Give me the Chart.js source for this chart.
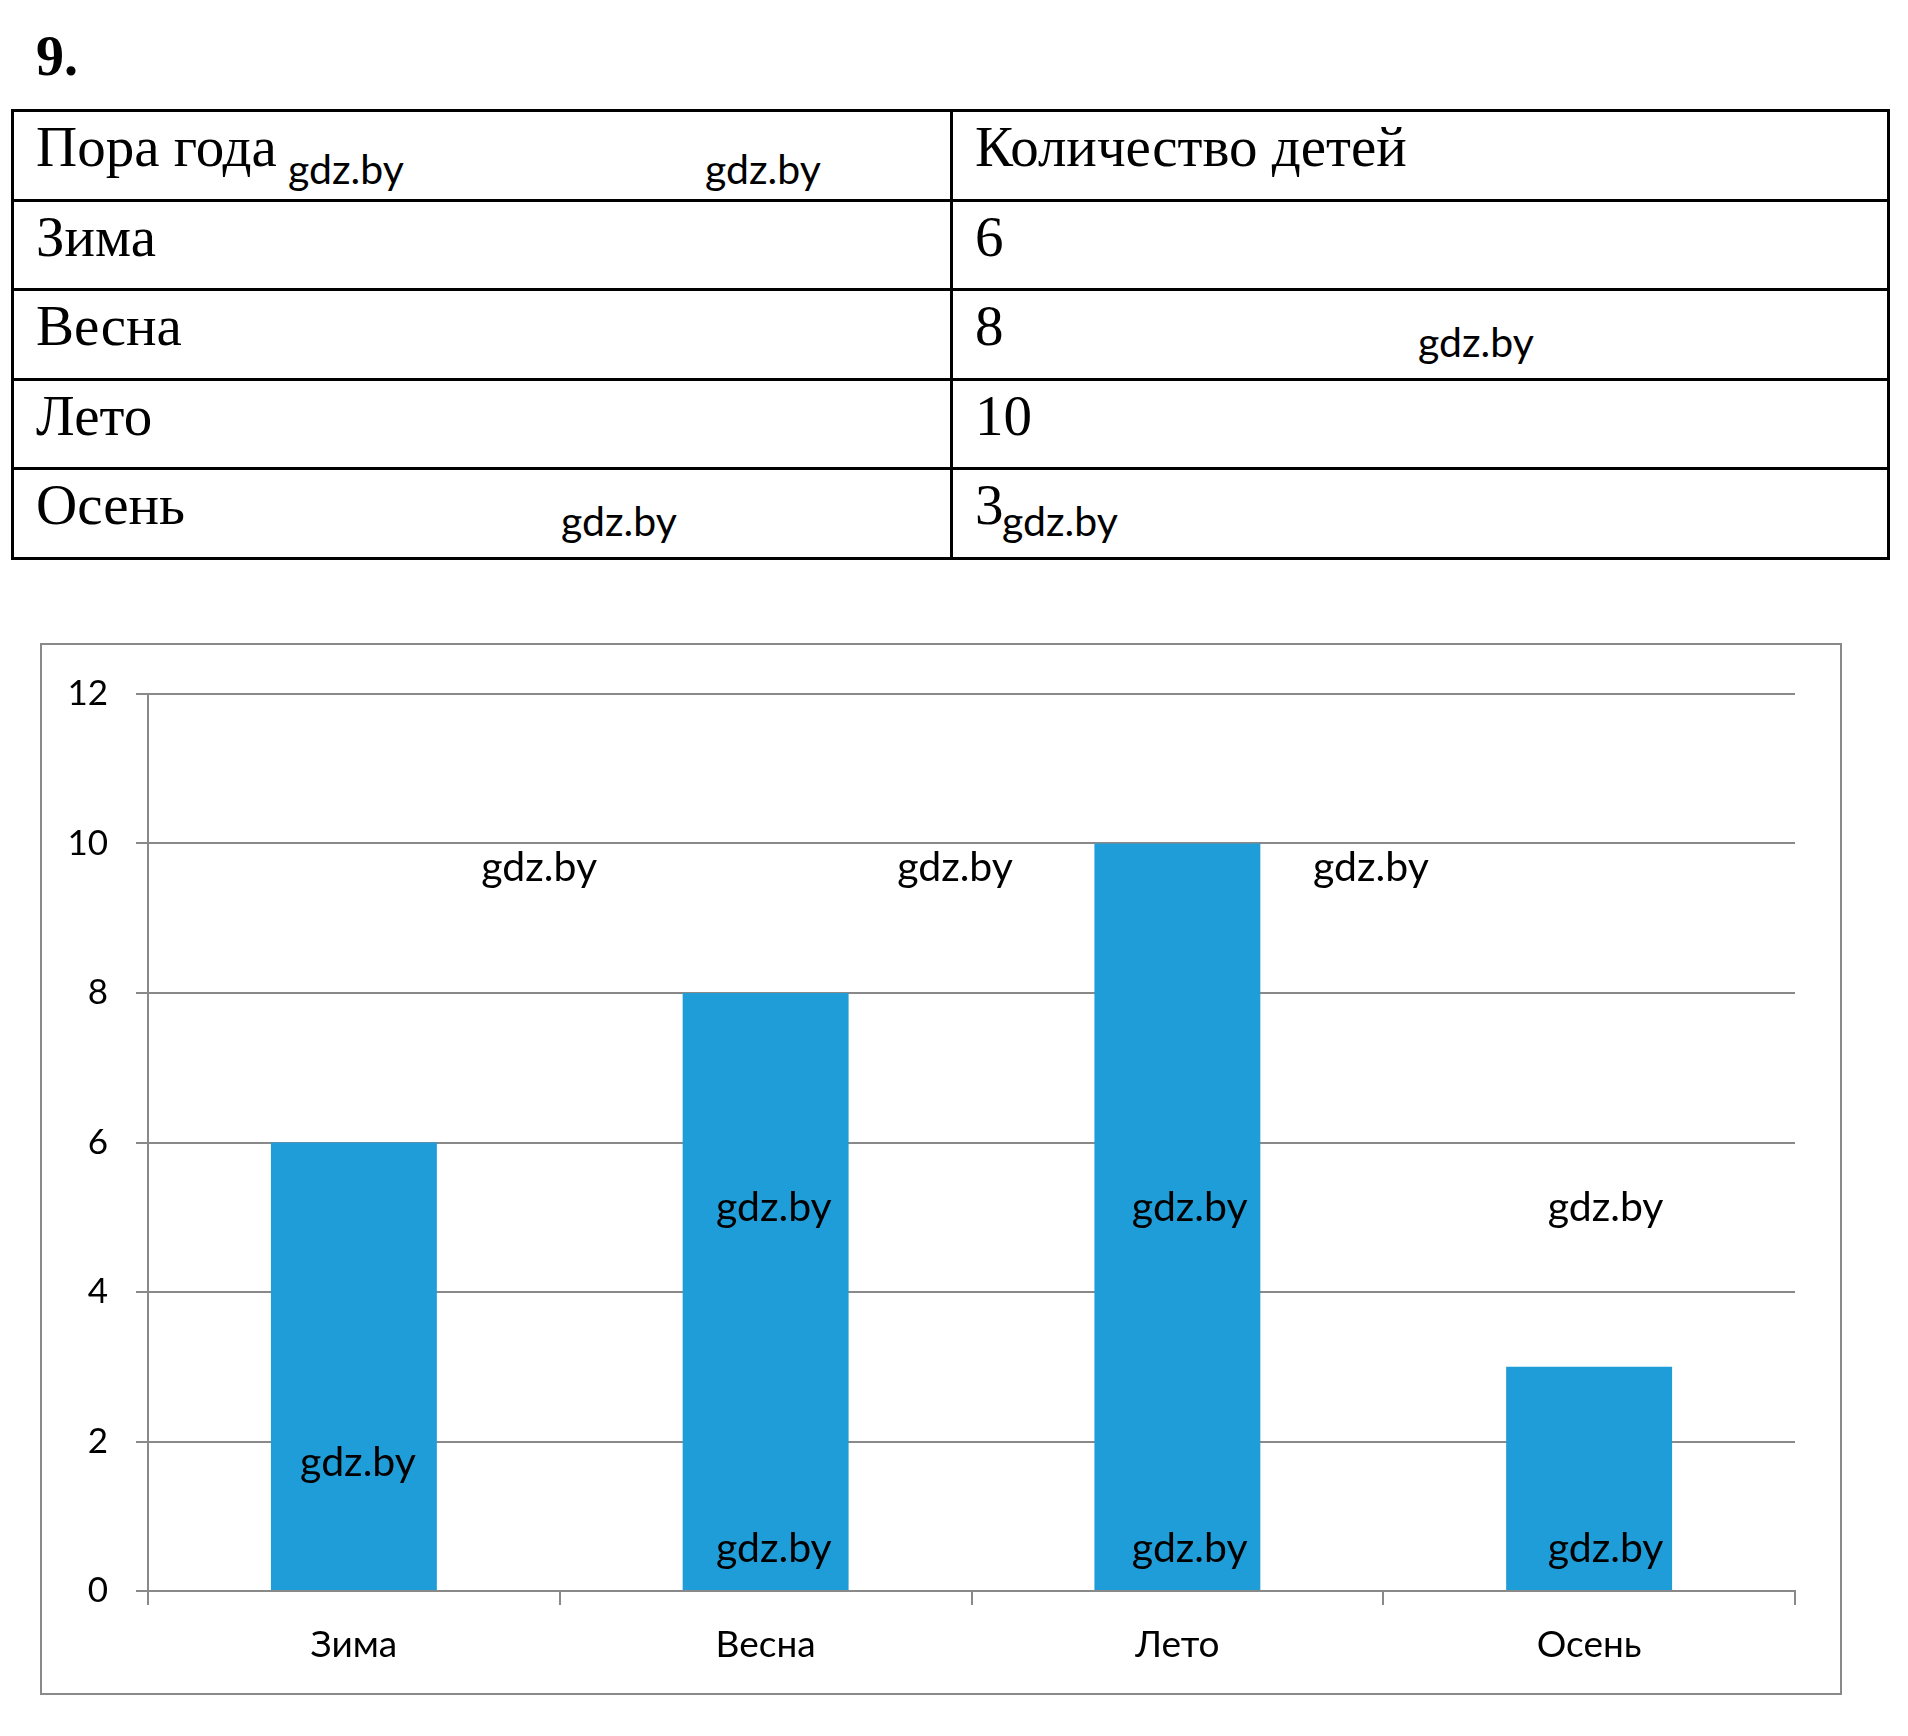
<!DOCTYPE html>
<html>
<head>
<meta charset="utf-8">
<script src="https://cdn.jsdelivr.net/npm/chart.js@4"></script>
<style>
  html, body { margin: 0; padding: 0; background: #fff; }
  body { width: 1908px; height: 1736px; position: relative; overflow: hidden; }
  #num { position: absolute; left: 36px; top: 28px; font: bold 56px/56px "Liberation Serif", serif; color: #000; }
  #tbl { position: absolute; left: 11px; top: 109px; width: 1876px; border-collapse: collapse; table-layout: fixed;
         font-family: "Liberation Serif", serif; font-size: 57px; color: #000; }
  #tbl td { border: 3px solid #000; height: 89.6px; padding: 6px 0 0 22px; vertical-align: top; line-height: 57px; box-sizing: border-box; }
  .wm { position: absolute; font: 41px/41px Lato, sans-serif; color: #000; white-space: nowrap; }
  #frame { position: absolute; left: 40px; top: 643px; width: 1798px; height: 1048px; border: 2px solid #898989; }
  #myChart { position: absolute; left: 0; top: 0; }
</style>
</head>
<body>
<div id="num">9.</div>
<table id="tbl">
  <colgroup><col style="width:939px"><col style="width:937px"></colgroup>
  <tbody id="tblBody"></tbody>
</table>
<div id="frame"><canvas id="myChart" width="1798" height="1048"></canvas></div>
<script>
const tableHeader = ['Пора года', 'Количество детей'];
const seasons = ['Зима', 'Весна', 'Лето', 'Осень'];
const children = [6, 8, 10, 3];
const yTicks = [0, 2, 4, 6, 8, 10, 12];

// watermark spots in the chart: [category index, value]
const chartMarks = [[0.45, 9.67], [1.46, 9.67], [2.47, 9.67],
                    [1.02, 5.12], [2.03, 5.12], [3.04, 5.12],
                    [0.01, 1.72],
                    [1.02, 0.57], [2.03, 0.57], [3.04, 0.57]];
// watermark spots over the table: [left, top] in px
const tableMarks = [[288, 148], [705, 148], [1418, 321], [561, 500], [1002, 500]];

//-----------------Table-------------------//
const body = document.getElementById('tblBody');
const rows = [tableHeader].concat(seasons.map((s, i) => [s, String(children[i])]));
rows.forEach(r => {
	const tr = document.createElement('tr');
	r.forEach(c => {
		const td = document.createElement('td');
		td.textContent = c;
		tr.appendChild(td);
	});
	body.appendChild(tr);
});
tableMarks.forEach(p => {
	const el = document.createElement('div');
	el.className = 'wm';
	el.textContent = 'gdz.by';
	el.style.left = p[0] + 'px';
	el.style.top = p[1] + 'px';
	document.body.appendChild(el);
});
//-----------------Table-------------------//

const watermarkPlugin = {
	id: 'watermark',
	afterDatasetsDraw(chart) {
		const ctx = chart.ctx;
		const x = chart.scales.x, y = chart.scales.y;
		ctx.save();
		ctx.font = '41px Lato';
		ctx.fillStyle = '#000';
		ctx.textAlign = 'center';
		ctx.textBaseline = 'middle';
		chartMarks.forEach(m => {
			ctx.fillText('gdz.by', x.getPixelForValue(m[0]), y.getPixelForValue(m[1]));
		});
		ctx.restore();
	}
};

const gray = '#898989';
const ctx = document.getElementById('myChart');
const myChart = new Chart(ctx, {
	type: 'bar',
	data: {
		labels: seasons,
		datasets: [{
			label: 'Количество детей',
			data: children,
			backgroundColor: '#1e9dd8',
			borderWidth: 0,
			barPercentage: 0.403,
			categoryPercentage: 1
		}]
	},
	options: {
		responsive: false,
		animation: false,
		devicePixelRatio: 1,
		layout: { padding: { top: 47, right: 45, left: 0, bottom: 0 } },
		plugins: { legend: { display: false }, tooltip: { enabled: false } },
		scales: {
			x: {
				grid: { drawOnChartArea: false, drawTicks: true, tickLength: 14, color: gray, lineWidth: 2, offset: true },
				border: { display: true, color: gray, width: 2 },
				ticks: { color: '#000', font: { family: 'Lato', size: 37 }, padding: 18 },
				afterFit: s => { s.height = 102; }
			},
			y: {
				min: 0,
				max: 12,
				grid: { color: gray, lineWidth: 2, tickLength: 12 },
				border: { display: true, color: gray, width: 2 },
				ticks: { color: '#000', font: { family: 'Lato', size: 35 }, padding: 28 },
				afterBuildTicks: s => { s.ticks = yTicks.map(v => ({ value: v })); },
				afterFit: s => { s.width = 106; }
			}
		}
	},
	plugins: [watermarkPlugin]
});
</script>
</body>
</html>
